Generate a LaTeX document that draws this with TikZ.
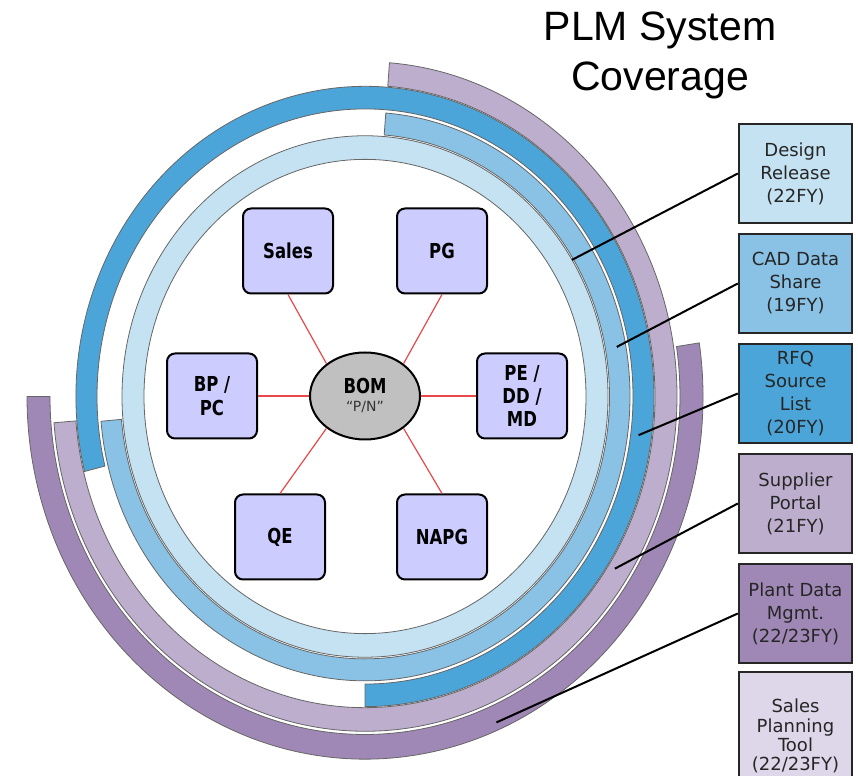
\documentclass[tikz,border=0pt]{standalone}
\usepackage{fontspec}
\setmainfont{DejaVu Sans}
\newfontfamily\unitfont{DejaVu Sans}[FakeStretch=0.8]
\newfontfamily\titlefont{Liberation Sans}
\usetikzlibrary{shapes.geometric}

\definecolor{cDR}{HTML}{C5E2F2}
\definecolor{cCAD}{HTML}{89C2E5}
\definecolor{cRFQ}{HTML}{4CA5D8}
\definecolor{cSP}{HTML}{BEAECE}
\definecolor{cPDM}{HTML}{A088B6}
\definecolor{cSPT}{HTML}{DED6E9}
\definecolor{cunit}{HTML}{CCCCFF}
\definecolor{cbom}{HTML}{C0C0C0}
\definecolor{clink}{HTML}{E8484A}

\tikzstyle{ring}   = [draw=black!60, line width=0.4pt]
\tikzstyle{unit}   = [draw=black, line width=1pt, fill=cunit, rounded corners=4pt, minimum width=45pt, minimum height=42.5pt, inner sep=0pt, align=center, font=\unitfont\bfseries\fontsize{10.3}{11.7}\selectfont]
\tikzstyle{tag}    = [draw=black!85, line width=1.2pt, minimum width=56.5pt, minimum height=49.5pt, inner sep=0pt, align=center, text=black!85, font=\fontsize{9}{11.5}\selectfont]
\tikzstyle{link}   = [draw=clink, line width=0.6pt]
\tikzstyle{leader} = [draw=black, line width=1pt]

% coloured band: fill, inner radius, outer radius, start angle, end angle
\newcommand{\band}[5]{%
  \draw[ring, fill=#1] (#4:#2) arc[start angle=#4, end angle=#5, radius=#2]
    -- (#5:#3) arc[start angle=#5, end angle=#4, radius=#3] -- cycle;}

\begin{document}
\begin{tikzpicture}[x=0.5pt, y=0.5pt]
  \useasboundingbox (0,0) rectangle (858,776);

  % coverage rings
  \begin{scope}[shift={(365,379.5)}, yscale=1.073]
    \draw[ring, fill=cDR, even odd rule] (0,0) circle[radius=243] (0,0) circle[radius=221];
    \band{cCAD}{244.5}{265}{-175}{85.5}
    \band{cRFQ}{268}{289}{-90}{194}
    \band{cSP}{290}{312}{-175.5}{85.5}
    \band{cPDM}{315}{338}{-180}{8.5}
    \coordinate (eDR)  at (31.6:243);
    \coordinate (eCAD) at (10.4:256);
    \coordinate (eRFQ) at (-7.5:276);
    \coordinate (eSP)  at (-32.7:297);
    \coordinate (ePDM) at (-66.6:331);
  \end{scope}

  % departments round the BOM
  \node[unit] (sales) at (288,525) {Sales};
  \node[unit] (pg)    at (442,525) {PG};
  \node[unit] (bppc)  at (212,380) {BP /\\PC};
  \node[unit] (pedd)  at (522,380) {PE /\\DD /\\MD};
  \node[unit] (qe)    at (280,239) {QE};
  \node[unit] (napg)  at (442,239) {NAPG};
  \node[ellipse, draw=black, line width=1pt, fill=cbom, minimum width=55pt, minimum height=43.5pt, inner sep=0pt, align=center, font=\fontsize{7}{9}\selectfont] (bom) at (365,380)
    {{\unitfont\bfseries\fontsize{10.3}{11}\selectfont BOM}\\{\color{black!80}“P/N”}};

  \draw[link] (sales.south) -- (bom.140);
  \draw[link] (pg.south)    -- (bom.40);
  \draw[link] (bppc.east)   -- (bom.west);
  \draw[link] (pedd.west)   -- (bom.east);
  \draw[link] (qe.north)    -- (bom.220);
  \draw[link] (napg.north)  -- (bom.320);

  % legend
  \node[tag, fill=cDR]  (dr)  at (795.5,602.5) {Design\\Release\\(22FY)};
  \node[tag, fill=cCAD] (cad) at (795.5,492.5) {CAD Data\\Share\\(19FY)};
  \node[tag, fill=cRFQ] (rfq) at (795.5,382.5) {RFQ\\Source\\List\\(20FY)};
  \node[tag, fill=cSP]  (sp)  at (795.5,272.5) {Supplier\\Portal\\(21FY)};
  \node[tag, fill=cPDM] (pdm) at (795.5,162.5) {Plant Data\\Mgmt.\\(22/23FY)};
  \node[tag, fill=cSPT, minimum height=64pt, font=\fontsize{9}{9.6}\selectfont] (spt) at (795.5,40) {Sales\\Planning\\Tool\\(22/23FY)};

  \draw[leader] (dr.west)  -- (eDR);
  \draw[leader] (cad.west) -- (eCAD);
  \draw[leader] (rfq.west) -- (eRFQ);
  \draw[leader] (sp.west)  -- (eSP);
  \draw[leader] (pdm.west) -- (ePDM);

  \node[font=\titlefont\fontsize{20.5}{25}\selectfont, align=center, inner sep=0pt] (title) at (660,721) {PLM System\\Coverage};
\end{tikzpicture}
\end{document}
